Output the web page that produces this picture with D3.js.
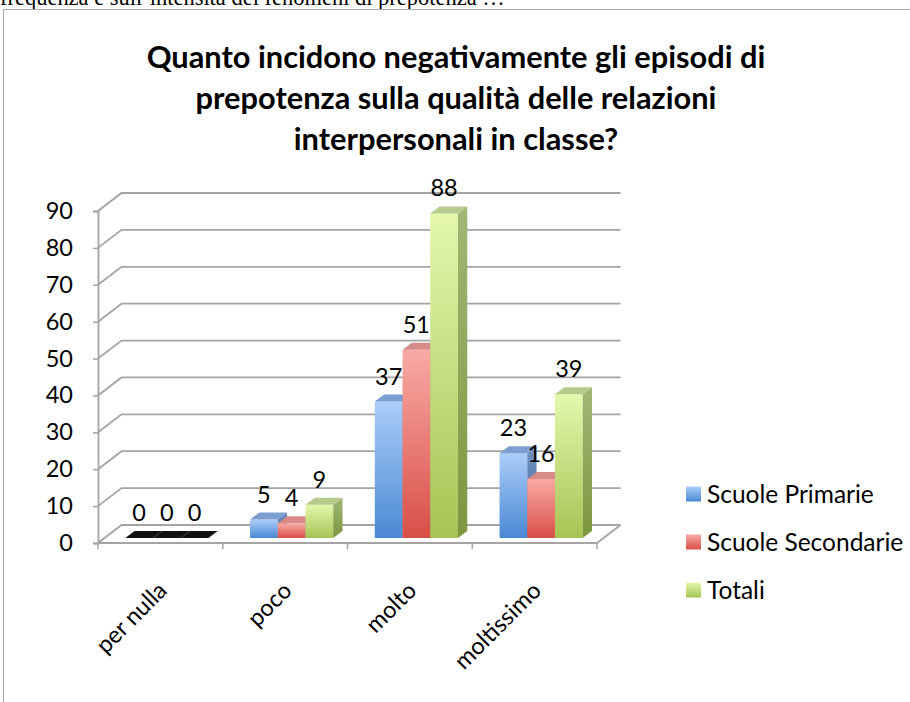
<!DOCTYPE html>
<html lang="it">
<head>
<meta charset="UTF-8">
<title>Episodi di prepotenza</title>
<script src="https://d3js.org/d3.v7.min.js"></script>
<style>
    body { margin: 0; background: #fff; }
    svg { display: block; }
    .lbl { font-family: Lato, "Open Sans", sans-serif; fill: #000; }
</style>
</head>
<body>
<svg id="chart" width="910" height="702"></svg>
<script>
// dati
const categories = ["per nulla", "poco", "molto", "moltissimo"];
const seriesNames = ["Scuole Primarie", "Scuole Secondarie", "Totali"];
const primarie = [0, 5, 37, 23];
const secondarie = [0, 4, 51, 16];
const totali = [0, 9, 88, 39];
const yTicks = [0, 10, 20, 30, 40, 50, 60, 70, 80, 90];
const titleLines = [
    "Quanto incidono negativamente gli episodi di",
    "prepotenza sulla qualità delle relazioni",
    "interpersonali in classe?"
];
const headerText = "frequenza e sull’intensità dei fenomeni di prepotenza …";

const seriesValues = [primarie, secondarie, totali];

// colori (fronte: chiaro -> scuro, lato, sopra)
const palette = [
    { light: "#abcdf8", dark: "#4a89d3", side: ["#7191c2", "#3d6aa3"], top: "#7c9ed0" },
    { light: "#f9aaa5", dark: "#d84f47", side: ["#c27471", "#a23d37"], top: "#d78b88" },
    { light: "#e4f7ad", dark: "#a6c454", side: ["#a2b676", "#7c973f"], top: "#b6ca8c" }
];

const svg = d3.select("#chart");
const defs = svg.append("defs");

palette.forEach((p, i) => {
    const g = defs.append("linearGradient").attr("id", "front" + i)
        .attr("x1", 0).attr("y1", 0).attr("x2", 0).attr("y2", 1);
    g.append("stop").attr("offset", "0%").attr("stop-color", p.light);
    g.append("stop").attr("offset", "100%").attr("stop-color", p.dark);
    const s = defs.append("linearGradient").attr("id", "side" + i)
        .attr("x1", 0).attr("y1", 0).attr("x2", 0).attr("y2", 1);
    s.append("stop").attr("offset", "0%").attr("stop-color", p.side[0]);
    s.append("stop").attr("offset", "100%").attr("stop-color", p.side[1]);
});

// testo di intestazione tagliato in alto
const header = svg.append("text")
    .attr("x", 0).attr("y", 5)
    .style("font-family", "'Liberation Serif', 'DejaVu Serif', serif")
    .style("font-size", "100px")
    .text(headerText);
header.style("font-size", (100 * 505 / header.node().getComputedTextLength()) + "px");

// cornice
svg.append("rect")
    .attr("x", 3.5).attr("y", 9.5)
    .attr("width", 1000).attr("height", 1000)
    .attr("fill", "none").attr("stroke", "#a8a8a8").attr("stroke-width", 1);

// titolo
const titleG = svg.append("g");
const titleNodes = titleLines.map((t, i) => titleG.append("text")
    .attr("class", "lbl")
    .attr("x", 456).attr("y", 68 + i * 41)
    .attr("text-anchor", "middle")
    .style("font-weight", "bold")
    .style("font-size", "100px")
    .text(t));
const tSize = 100 * 619 / titleNodes[0].node().getComputedTextLength();
titleNodes.forEach(n => n.style("font-size", tSize + "px"));

// geometria
const floorY = 543;
const depth = { dx: 23.5, dy: -18 };
const barOff = { dx: 6.5, dy: -5 };
const barDepth = { dx: 9.3, dy: -7 };

const y = d3.scaleLinear().domain([0, 90]).range([floorY, 211]);
const x0 = d3.scaleBand().domain(categories).range([98, 597]);
const x1 = d3.scaleBand().domain(seriesNames).range([0, x0.bandwidth()]).paddingOuter(0.75);

const gridColor = "#a4a4a4";

// pareti e griglia
const grid = svg.append("g");
yTicks.forEach(t => {
    const fy = y(t);
    grid.append("polyline")
        .attr("points", [[98, fy], [98 + depth.dx, fy + depth.dy], [597 + depth.dx, fy + depth.dy]].join(" "))
        .attr("fill", "none").attr("stroke", gridColor).attr("stroke-width", 1.8);
});
// pavimento
grid.append("polyline")
    .attr("points", [[98, floorY], [597, floorY], [597 + depth.dx, floorY + depth.dy]].join(" "))
    .attr("fill", "none").attr("stroke", gridColor).attr("stroke-width", 1.8);

// asse y
const yAxis = svg.append("g").attr("transform", "translate(98,0)")
    .call(d3.axisLeft(y).tickValues(yTicks).tickSize(5).tickPadding(20));
yAxis.select(".domain").attr("stroke", gridColor).attr("stroke-width", 1.8);
yAxis.selectAll(".tick line").attr("stroke", gridColor).attr("stroke-width", 1.5);
yAxis.selectAll(".tick text").attr("class", "lbl").style("font-size", "23.5px").attr("fill", "#000");

// asse x
const xAxis = svg.append("g").attr("transform", `translate(0,${floorY})`)
    .call(d3.axisBottom(x0).tickSize(0).tickFormat(""));
xAxis.select(".domain").remove();
const catTicks = categories.map(c => x0(c)).concat([x0.range()[1]]);
xAxis.selectAll(".cat-tick").data(catTicks).enter().append("line")
    .attr("x1", d => d).attr("x2", d => d).attr("y1", 0).attr("y2", 6)
    .attr("stroke", gridColor).attr("stroke-width", 1.5);
svg.append("g").selectAll("text").data(categories).enter().append("text")
    .attr("class", "lbl")
    .style("font-size", "23.5px")
    .attr("text-anchor", "end")
    .attr("transform", d => `translate(${x0(d) + x0.bandwidth() / 2 + 8},592) rotate(-45)`)
    .text(d => d);

// barre 3D
const baseY = floorY + barOff.dy;
const h = v => floorY - y(v);
const bars = svg.append("g");
categories.forEach((c, ci) => {
    seriesNames.forEach((s, si) => {
        const v = seriesValues[si][ci];
        const bx = x0(c) + x1(s) + barOff.dx;
        const w = x1.bandwidth();
        const yt = baseY - h(v);
        const g = bars.append("g");
        if (v > 0) {
            g.append("rect").attr("x", bx).attr("y", yt).attr("width", w).attr("height", h(v))
                .attr("fill", `url(#front${si})`);
            g.append("polygon")
                .attr("points", [[bx + w, yt], [bx + w + barDepth.dx, yt + barDepth.dy],
                    [bx + w + barDepth.dx, baseY + barDepth.dy], [bx + w, baseY]].join(" "))
                .attr("fill", `url(#side${si})`);
        }
        g.append("polygon")
            .attr("points", [[bx, yt], [bx + barDepth.dx, yt + barDepth.dy],
                [bx + w + barDepth.dx, yt + barDepth.dy], [bx + w, yt]].join(" "))
            .attr("fill", v > 0 ? palette[si].top : "#111");
        // etichetta valore
        bars.append("text")
            .attr("class", "lbl")
            .style("font-size", "23.5px")
            .attr("text-anchor", "middle")
            .attr("x", bx + w / 2)
            .attr("y", yt - 17)
            .text(v);
    });
});

// legenda
const legend = svg.append("g");
seriesNames.forEach((s, i) => {
    const ly = 494 + i * 48;
    legend.append("rect").attr("x", 686).attr("y", ly - 7.5).attr("width", 15).attr("height", 15)
        .attr("fill", `url(#front${i})`);
    legend.append("text").attr("class", "lbl")
        .style("font-size", "24.5px")
        .attr("x", 707).attr("y", ly).attr("dy", "0.36em")
        .text(s);
});
</script>
</body>
</html>
